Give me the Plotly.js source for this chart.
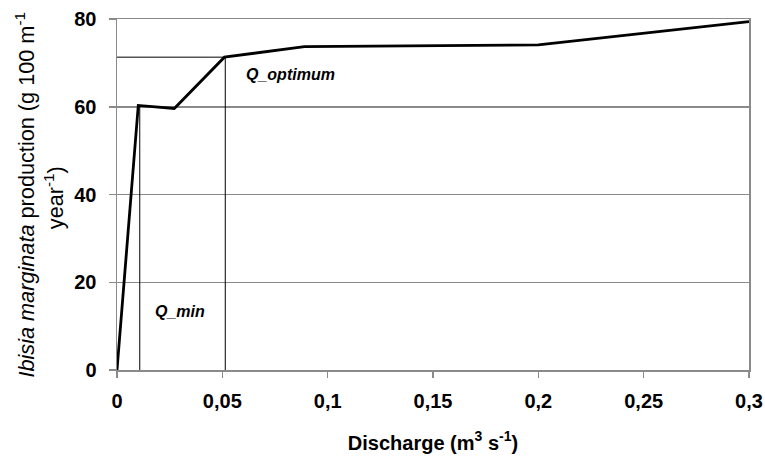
<!DOCTYPE html>
<html>
<head>
<meta charset="utf-8">
<script src="https://cdn.plot.ly/plotly-3.0.1.min.js"></script>
<style>html,body{margin:0;padding:0;background:#fff;}#chart{width:765px;height:457px;}</style>
</head>
<body>
<div id="chart"></div>
<script>
// Data
var discharge = [0, 0.0101, 0.0272, 0.051, 0.089, 0.2, 0.3];
var production = [0, 60.3, 59.6, 71.3, 73.7, 74.1, 79.4];

// Threshold reference lines
var qMinX = [0.0108, 0.0108];
var qMinY = [0, 60.2];
var qOptX = [0, 0.0514, 0.0514];
var qOptY = [71.3, 71.3, 0];

var xTicks = [0, 0.05, 0.1, 0.15, 0.2, 0.25, 0.3];
var yTicks = [0, 20, 40, 60, 80];

var labels = ["Q_min", "Q_optimum"];
var labelX = [0.017, 0.0605];
var labelY = [13.4, 67.3];

var FONT = "Arial, 'Liberation Sans', sans-serif";
var GRID = "#8a8a8a";

var traces = [
  {x: qMinX, y: qMinY, mode: "lines", line: {color: "#000", width: 1}, hoverinfo: "skip", showlegend: false},
  {x: qOptX, y: qOptY, mode: "lines", line: {color: "#000", width: 1}, hoverinfo: "skip", showlegend: false},
  {x: discharge, y: production, mode: "lines", line: {color: "#000", width: 2.8}, showlegend: false}
];

var annotations = [
  {xref: "x", yref: "y", x: labelX[0], y: labelY[0], text: "<b><i>" + labels[0] + "</i></b>", showarrow: false, xanchor: "left", yanchor: "middle", font: {family: FONT, size: 16, color: "#000"}},
  {xref: "x", yref: "y", x: labelX[1], y: labelY[1], text: "<b><i>" + labels[1] + "</i></b>", showarrow: false, xanchor: "left", yanchor: "middle", font: {family: FONT, size: 16, color: "#000"}},
  {xref: "paper", yref: "paper", x: -0.147, y: 0.5, text: "<i>Ibisia marginata</i> production (g 100 m<sup>-1</sup>", textangle: -90, showarrow: false, xanchor: "center", yanchor: "middle", font: {family: FONT, size: 21.7, color: "#000"}},
  {xref: "paper", yref: "paper", x: -0.0994, y: 0.49, text: "year<sup>-1</sup>)", textangle: -90, showarrow: false, xanchor: "center", yanchor: "middle", font: {family: FONT, size: 21.7, color: "#000"}}
];

var layout = {
  width: 765, height: 457,
  margin: {l: 117, r: 16, t: 19, b: 87},
  paper_bgcolor: "#fff", plot_bgcolor: "#fff",
  separators: ", ",
  font: {family: FONT, color: "#000"},
  showlegend: false,
  xaxis: {
    range: [0, 0.3], tickvals: xTicks,
    showgrid: false, zeroline: false,
    showline: true, linecolor: GRID, linewidth: 1.5, mirror: true,
    ticks: "outside", ticklen: 6, tickcolor: GRID, tickwidth: 1.5,
    tickfont: {family: FONT, size: 20, color: "#000", weight: "bold"},
    ticklabelstandoff: 6,
    title: {text: "<b>Discharge (m<sup>3</sup> s<sup>-1</sup>)</b>", font: {family: FONT, size: 20, color: "#000"}, standoff: 25}
  },
  yaxis: {
    range: [0, 80], tickvals: yTicks,
    showgrid: true, gridcolor: GRID, gridwidth: 1.5, zeroline: false,
    showline: true, linecolor: GRID, linewidth: 1.5, mirror: true,
    ticks: "outside", ticklen: 7, tickcolor: GRID, tickwidth: 1.5,
    tickfont: {family: FONT, size: 20, color: "#000", weight: "bold"},
    ticklabelstandoff: 8
  },
  annotations: annotations
};

Plotly.newPlot("chart", traces, layout, {displayModeBar: false, staticPlot: true});
</script>
</body>
</html>
